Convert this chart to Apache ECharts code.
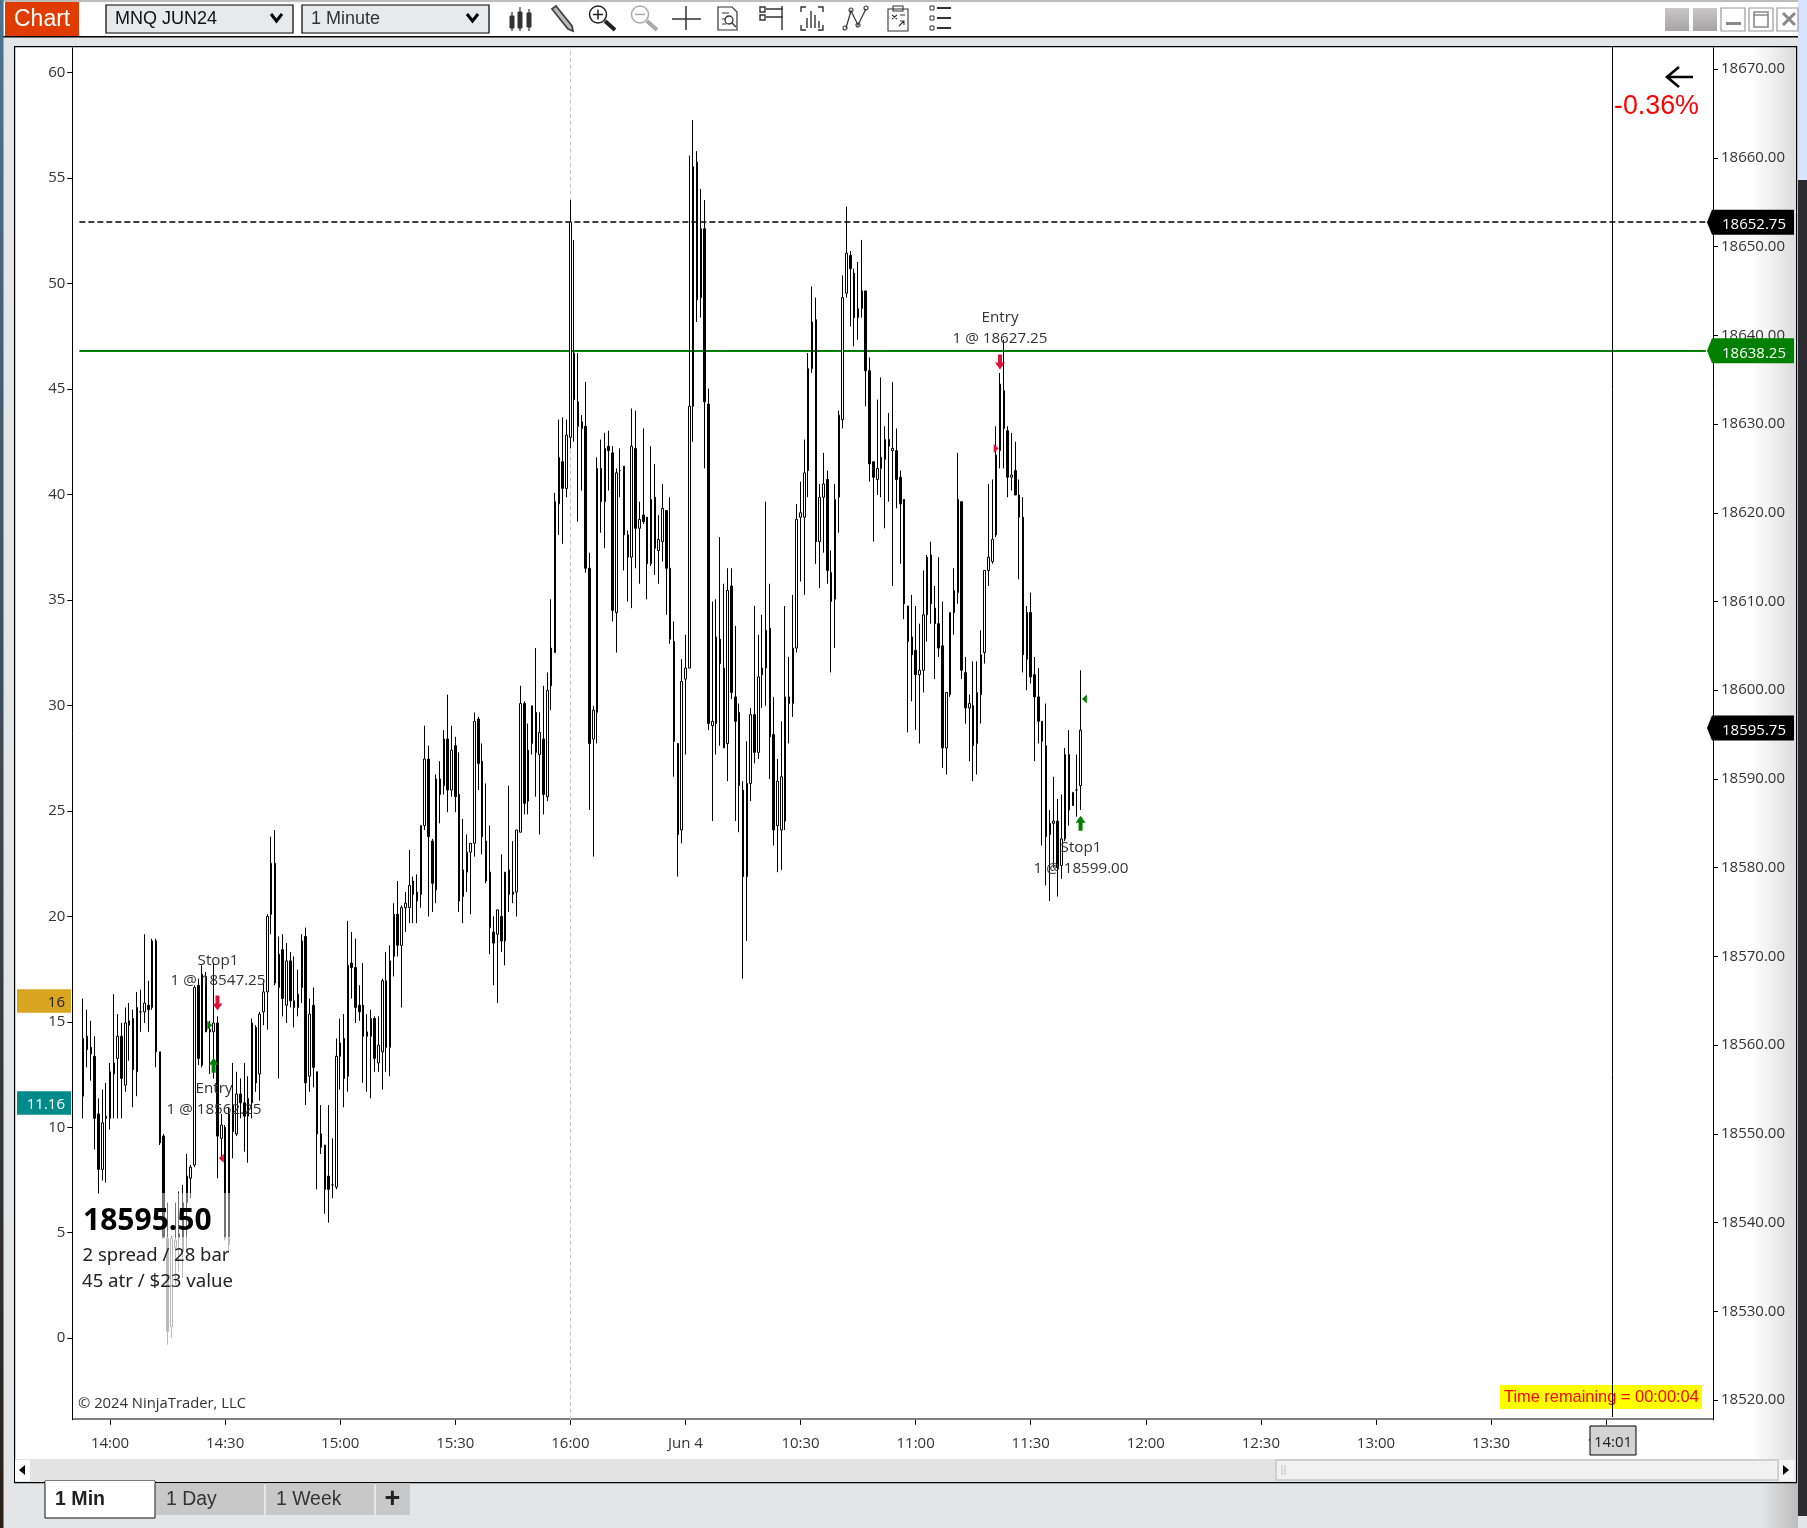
<!DOCTYPE html>
<html><head><meta charset="utf-8">
<style>html,body{margin:0;padding:0;background:#e4e5e7}#c{width:1807px;height:1528px}</style>
<script src="https://cdn.jsdelivr.net/npm/echarts@6/dist/echarts.min.js"></script>
</head><body><div id="c"></div>
<script>
const priceBase=18000;
const opens=[554.25,561,559.75,558.75,552.25,546,551.75,551.75,556.75,558.5,
561,555.5,562.25,563,557,563.75,563.75,564.5,564.25,571.75,
559.25,549.75,538.25,528.25,537.25,538.75,536.75,542.25,545,546.5,
566.75,557.75,567.75,561.5,561.5,562.5,549.5,550.75,537.5,553.25,
550,554.5,553.5,552,553.5,562,556.75,563.75,566,574.75,
580.5,566.5,570.75,564.5,569.5,565,564.25,566.5,572.25,556.5,
564.5,557,550,548.75,545.25,544.25,544,558.75,560.75,556.5,
569.25,568.75,564.5,564.5,561,561,563,558,559.25,567.25,
559.75,570,574.75,571.25,575.5,575.5,578.5,577.25,577,584.75,
592.25,583,577.5,590,589.25,594.5,588.75,593.75,588.25,576.75,
579.5,581.75,582.75,596.75,592,583,579.5,572.75,572.5,574.5,
571.75,579.75,577,577.25,584,598.5,587.5,594,597.5,592.75,
594.5,588,600.5,604.25,621,625.75,622.75,628.5,638,632.5,
629.5,629.75,613.75,594.5,597.5,625,621.25,627.5,626.75,608.75,
624.75,625.25,617.5,615,627.25,618.25,619.75,619.5,614.25,621.75,
615.75,616.75,620.25,613.75,605.5,594,584.25,601.25,602.5,632,
659.5,644.25,652,632.25,596,596.25,605.75,602.5,594,611.75,
599.25,597.5,588.75,579,589.5,597.25,593,601.75,602.5,607,
595,584.75,584.25,585.25,599.25,598.5,604.75,619.5,619.5,624.75,
636.25,641.75,616.75,621.75,623.75,613.25,610.25,621.75,630.5,644.75,
649,647,642,643,645,636,625.75,623.75,625,626,
628.25,627,627,624,621.5,609.5,606,604.5,601.75,602.25,
608.5,615.25,609.25,607.5,605,593.5,599.5,608.75,611,621.25,
602,598,598.25,594,599.5,604.25,613.5,614.5,617.5,627,
633.75,629.25,624,624.75,622,619.5,603.5,608.75,601.75,599.25,
596.5,593.75,583.75,585,585.25,580.25,583.25,592.75,587,588.75,589.25];
const closes=[560.75,559.5,559,551.75,546,551.25,552,557,558,561,
556.25,562.5,562.75,557.25,564.25,563.75,564.75,564,571.75,559.25,
549,538.25,527.75,538.25,538,538.25,542.25,545.25,546.25,566.5,
558.5,568,561.5,561.75,562.5,549.75,551,538.25,552.25,550.25,
554.5,553.5,552,554,562.5,555.75,563.5,566,574.5,580.5,
567,570.25,565.25,569.5,565,564.25,565.75,571.75,555.75,563.5,
557.5,550,548.5,543.75,543.75,544.25,558.75,560.25,556.25,569,
568.75,564.25,563.75,561,561.5,563,558.5,560,567.25,559.75,
569.5,574.75,571.25,575.5,576,578,577,576.25,584.75,592.25,
583.5,578.25,590,588.25,594.5,588.75,593.25,588,576.25,579.75,
581.75,582.75,596.5,591.75,583.5,578.5,573.25,571.5,575.25,571.75,
579.5,577,577.25,584.25,598.5,587.25,593.25,598.25,593,595.25,
588.25,600,604.75,621.25,626.25,622.75,628.75,652.75,632.75,629.75,
630.25,613.75,594,597.75,625,621.25,627.25,627,609,624.5,
624.75,617.5,615,627.5,618.25,619.25,619,614.25,621.5,616,
617,620.5,613.75,605.75,594.25,583.75,601,602.5,632,659,
644,652,632.5,596.25,596.5,606,603,593.5,611.25,599.75,
596.5,589.25,579,589.5,597.25,593,601.5,602.5,606.75,594.75,
584.25,589.75,590.25,599.25,598.5,604.75,619.25,620,624.5,636.25,
641.5,616.75,621.75,623.25,613.5,610,621.5,631,644.25,649.25,
647.5,642,643,645,636,625.5,624,625,626.25,628.25,
627.5,627.25,623.75,621,609.75,605.5,604,601.75,602.25,608.5,
615,609.75,607.5,604.75,593.5,599.75,608.75,611.25,621.5,602.25,
598,598.5,593.75,599.75,604,613.5,615,617,626.5,634.5,
629.5,624,624.25,622,619.5,604,608.75,601.5,599.25,596.5,
594.25,583.5,585,585.25,580,583.25,592.75,586.5,588.5,588.75,595.5];
const lows=[551.75,557.5,556,548.25,543.25,544.75,544.5,550.5,551.75,551.75,
551.75,554.75,558.25,553,554.25,561.5,562.5,561.5,564,557.5,
548.75,538.25,526.25,527,533,534.5,533.75,536.75,542.75,546.25,
557.75,557.5,561.5,556.75,556.25,545,547.25,538,536.75,547.25,
549.75,551.75,548,546.75,551.75,554.75,553.75,562.25,561.75,572.5,
566.75,556.25,563.25,562.5,564.25,562,563.25,564.75,553.25,554.75,
555.25,543.75,547.75,541,540,542.75,543.75,555,553,554.75,
565.25,562.5,562.75,555.75,554.75,554,557,557,555,557,
556.5,567.75,570,564.25,572.75,573.75,573.75,573.75,575.5,584.25,
574.5,575,576,585,588.25,586.25,588,586.25,575,573.75,
577.25,574.75,581.25,588.75,581.5,578.25,570.25,566.75,564.75,570.5,
569,575,576,574.5,584,586,586,592.75,588,583.75,
586,587.5,597.75,604.25,617.5,616.5,621.75,627.25,628,619,
622.5,613.25,586.5,581.25,594,617.75,616,622.5,607.75,604.25,
621.75,613.5,610,609.25,613.75,612,618.75,610.25,614,613,
612,614.5,608.5,605.25,590.25,579,582.75,592.75,602.5,628,
641.5,642,625,595.5,585.25,592.75,593.75,593.5,589.75,599,
585.25,584,567.5,571.75,587.5,591.75,592.25,598,598.25,590,
582.5,579.5,579.75,584.25,594,597,604.25,612.25,610.75,621.75,
635.75,614.25,611.5,615.5,612,602,604.75,617.75,629.5,644.25,
641,638.75,639.5,642,632,623.5,616.75,622,621.75,618.25,
621.25,611.75,620.5,614.25,608,595.25,598.75,595.5,594,599.75,
605.5,607.5,601.25,603.75,591.25,590.5,599.25,606.25,609.75,601.25,
596.25,592,589.75,590.5,596.25,603,611.75,614.25,617.25,625,
625,621.75,622.5,622,612.5,602,600,600.75,592,594,
582.5,578,576.25,580,576.75,578.75,583,584.75,587,585.75,586.5];
const highs=[565.25,564,562.75,561,554,555,555.75,558,565.75,563.5,
562.5,564.25,564.75,564,566,566.25,572.5,567.25,572,572,
559.25,550,542.25,538.5,542.25,543.5,544.25,547.75,546.5,566.75,
567.5,569,568.25,562.75,569.25,563.25,552.25,551,553,558,
557,556.25,558,556.5,563,562.25,563.75,567.25,574.75,583.5,
584.25,572.25,572.5,571.5,570.5,570,568.5,572.5,573.25,565.25,
566.5,557,553.25,548.75,553.25,549.5,560.75,563,563.5,574,
572.75,572,566.75,569.25,563.5,564,563.25,563.25,567.5,570.5,
571.25,576,578.5,575.75,577.25,582,579,579.25,584.75,596,
593.75,583.25,590.5,592,595.5,599.5,596,594.75,593,585.5,
583.75,582.75,597.5,597,594,589.5,584.75,574.5,575.25,581.5,
579.5,589.25,583,584.25,600.5,598.75,596.25,598.25,604.75,597.5,
600.5,602,610.25,622.25,630.5,630.75,630.5,655.25,650.75,638,
631,634.75,615.5,598.25,626.25,628.25,629,629.25,627.5,625,
627.25,625.25,618,631.75,631.5,621.25,629.5,619.5,627.5,625.5,
619.75,623.25,620.25,621.75,607.75,594,603.5,606.25,660.25,664.25,
660.75,656.5,655.25,634,610,610.25,617.25,612,613.75,613.75,
607.25,598.5,589.75,594.25,598,609.5,606.25,608.5,621.25,612,
599.25,592.25,596.5,609.5,603.75,610.75,621,623.5,628.25,638,
645.5,644.25,623.25,626.75,624.75,615.75,623.25,631.5,646.75,654.5,
649.5,647.5,648.25,650.75,645,637.5,625.75,632.75,635.25,629.75,
631.25,634.75,629.5,624.75,621.5,609.5,610.75,609.5,607.5,613.5,
615.25,616.75,611.75,615,610,599.75,608.75,613.75,626.75,621.25,
603.75,599.5,603.25,603.25,606.75,613.5,623.25,623.75,629.75,635.75,
639.5,629.75,629,628,623.75,621.75,609.5,611,603.75,602.5,
596.5,598.5,586.5,590.25,587.75,588.25,593.5,595.5,588.5,592.75,602.25];
const timeTicks=['14:00','14:30','15:00','15:30','16:00','Jun 4','10:30','11:00','11:30','12:00','12:30','13:00','13:30','14:00'];
const priceTicks=[18520,18530,18540,18550,18560,18570,18580,18590,18600,18610,18620,18630,18640,18650,18660,18670];
const leftTicks=[0,5,10,15,20,25,30,35,40,45,50,55,60];
const entryStopLines={dashed:18652.75,green:18638.25,last:18595.75};
const arrowsDown=[[37,18564.75],[241,18637]];
const arrowsUp=[[36,18557.75],[262,18585]];
const triRightGreen=[[35,18562.25]];
const triLeftRed=[[38,18547.25]];
const triRightRed=[[240,18627.25]];
const triLeftGreen=[[263,18599]];
const leftTags=[{v:16,t:'16',fill:'#daa520',col:'#222'},{v:11.16,t:'11.16',fill:'#008b8b',col:'#fff'}];

const leadSlots=2, catCount=427, firstTickCat=9, tickStep=30;
const tickAt={}; timeTicks.forEach((t,k)=>tickAt[firstTickCat+k*tickStep]=t);
const cats=Array.from({length:catCount},(_,c)=>tickAt[c]||'');
const candle=opens.map((o,i)=>[i+leadSlots,priceBase+o,priceBase+closes[i],priceBase+lows[i],priceBase+highs[i]]);
const UI='"Open Sans"', AR='"Liberation Sans"';
const chart=echarts.init(document.getElementById('c'),null,{renderer:'canvas',width:1807,height:1528});
const downArrow='path://M3 0h4v8h3l-5 7-5-7h3z', upArrow='path://M5 0l5 7H7v8H3V7H0z';
const triR='path://M0 0L10 5L0 10Z', triL='path://M10 0L0 5L10 10Z';
const scat=(name,data,sym,size,color)=>({name,type:'scatter',xAxisIndex:0,yAxisIndex:1,data,symbol:sym,symbolSize:size,itemStyle:{color,opacity:1},silent:true,z:4,animation:false});
chart.setOption({
 animation:false,backgroundColor:'#e4e5e7',
 grid:{left:73.6,top:47.8,width:1638,height:1372,containLabel:false},
 xAxis:{type:'category',data:cats,boundaryGap:true,
  axisLine:{show:false,onZero:false},
  axisTick:{show:true,length:5,alignWithLabel:true,interval:i=>!!tickAt[i],lineStyle:{color:'#000'}},
  axisLabel:{show:true,interval:i=>!!tickAt[i],margin:16,fontFamily:UI,fontSize:15,color:'#333',hideOverlap:false},
  splitLine:{show:false}},
 yAxis:[
  {type:'value',position:'left',offset:1.3,min:-3.87,max:61.18,scale:true,
   axisLine:{show:true,onZero:false,lineStyle:{color:'#000'}},
   axisTick:{show:true,length:5,customValues:leftTicks,lineStyle:{color:'#000'}},
   axisLabel:{customValues:leftTicks,margin:7,padding:[11,0,0,0],fontFamily:UI,fontSize:15,color:'#333',showMinLabel:true,showMaxLabel:true},
   splitLine:{show:false}},
  {type:'value',position:'right',offset:1.4,min:18517.78,max:18672.4,scale:true,
   axisLine:{show:true,onZero:false,lineStyle:{color:'#000'}},
   axisTick:{show:true,length:5,customValues:priceTicks,lineStyle:{color:'#000'}},
   axisLabel:{customValues:priceTicks,margin:8,padding:[11,0,0,0],fontFamily:UI,fontSize:15,color:'#333',formatter:v=>v.toFixed(2)},
   splitLine:{show:false}}],
 series:[
  {type:'candlestick',name:'MNQ JUN24',xAxisIndex:0,yAxisIndex:1,data:candle,encode:{x:0,y:[1,2,3,4]},
   barWidth:2,silent:true,z:3,
   itemStyle:{color:'#fff',color0:'#000',borderColor:'#000',borderColor0:'#000',borderColorDoji:'#000',borderWidth:1},
   markLine:{silent:true,symbol:'none',animation:false,z:3,label:{show:false},data:[
    [{coord:[1,entryStopLines.dashed],lineStyle:{color:'#000',type:[6,3],width:1.6}},{coord:[425,entryStopLines.dashed]}],
    [{coord:[1,entryStopLines.green],lineStyle:{color:'#008000',type:'solid',width:2}},{coord:[425,entryStopLines.green]}],
    {xAxis:129,lineStyle:{color:'#c4c4c4',type:[4,3],width:1}}
   ]}},
  scat('exit-down',arrowsDown,downArrow,[10,15],'#dc143c'),
  scat('entry-up',arrowsUp,upArrow,[10,15],'#008000'),
  scat('fill-rg',triRightGreen,triR,[5,9],'#008000'),
  scat('fill-lr',triLeftRed,triL,[5,9],'#dc143c'),
  scat('fill-rr',triRightRed,triR,[5,9],'#dc143c'),
  scat('fill-lg',triLeftGreen,triL,[5,9],'#008000')
 ]
});

const G=[];let pathId=0;
const rect=(x,y,w,h,fill,z,extra)=>G.push(Object.assign({type:'rect',shape:{x,y,width:w,height:h},style:{fill},z,silent:true},extra||{}));
const txt=(x,y,text,size,color,o)=>{o=o||{};G.push({type:'text',z:o.z||20,silent:true,style:{x,y,text,fontSize:size,fontFamily:o.f||UI,fontWeight:o.w||'normal',fill:color,textAlign:o.a||'left',textVerticalAlign:'middle'}})};
const pth=(d,stroke,lw,z,fill)=>{const name='icon'+(pathId++);echarts.graphic.registerShape(name,echarts.graphic.extendPath(d,{}));G.push({type:name,z:z||20,silent:true,style:{fill:fill||'none',stroke:stroke||'none',lineWidth:lw||1}})};
const hGrad=(a,b)=>({type:'linear',x:0,y:0,x2:1,y2:0,colorStops:[{offset:0,color:a},{offset:1,color:b}]});
const vGrad=(a,b)=>({type:'linear',x:0,y:0,x2:0,y2:1,colorStops:[{offset:0,color:a},{offset:1,color:b}]});

// window chrome (under the chart)
rect(14,46,1783,1436,'#fff',-5);
rect(1752,47,44,1412,hGrad('#ffffff','#dcdcdc'),-4);
rect(1760,1483,38,45,hGrad('#e4e5e7','#bcbcbc'),-4);
rect(0,0,1807,2,'#bdbdbd',-4);
rect(4,2,1794,34,'#fff',-4);
rect(0,36,1798,1.4,'#000',-3);
rect(14,46,1783,1.2,'#000',-3);
rect(14,46,1.2,1436,'#000',-3);
rect(1796,46,1.2,1437,'#000',-3);
rect(14,1482,1783,1.2,'#000',-3);
rect(72,1418.6,1641,1,'#000',1);
rect(0,0,3.5,1528,vGrad('#4e7390','#2a2018'),-2);
rect(1798,0,9,180,'#d8e4fb',-2);
rect(1798,180,9,1336,'#2b2b30',-2);

// toolbar
rect(5,2,74,34,'#e03c00',-1);
txt(14,20,'Chart',23,'#fff',{f:AR});
G.push({type:'rect',z:-1,silent:true,shape:{x:106,y:5,width:187,height:28},style:{fill:'#e8e9ea',stroke:'#000',lineWidth:1.2}});
G.push({type:'rect',z:-1,silent:true,shape:{x:302,y:5,width:187,height:28},style:{fill:'#e8e9ea',stroke:'#000',lineWidth:1.2}});
txt(115,19.5,'MNQ JUN24',18,'#111',{f:AR});
txt(311,19.5,'1 Minute',18,'#333',{f:AR});
pth('M271 14l5.5 7 5.5-7','#000',3);
pth('M467 14l5.5 7 5.5-7','#000',3);
// toolbar icons
pth('M512 12V31M520 7V31M529 9V31','#333',1.2);
pth('M510 16h4v12h-4zM518 12h4v16h-4zM527 13h4v14h-4z','#333',1,20,'#333');
pth('M552 9l4-3 16 20 1 5-5-2z','#444',1.8,20,'#bbb');
pth('M598 6a8.5 8.5 0 1 0 .01 0zM593 14.5h10M598 9.5v10','#222',1.5);
pth('M605 21l10 9','#222',4);
pth('M640 6a8.5 8.5 0 1 0 .01 0zM635 14.5h10','#aaa',1.5);
pth('M647 21l10 9','#aaa',4);
pth('M672 19h29M686 6v24','#333',1.5);
pth('M718 7h14l5 5v18h-19zM722 13h7M722 19h4M722 24h4','#333',1.2);
pth('M729 16a4 4 0 1 0 .01 0zM732 23l4 4','#333',1.3);
pth('M760 7h5v5h-5zM760 15h5v5h-5zM766 9h17M766 17h17M782 6v24','#333',1.4);
pth('M801 12V7h5M818 7h5v5M823 25v5h-5M806 30h-5v-5M807 28V18M811 28V11M815 28V15M819 28V21','#333',1.4);
pth('M846 28l5-17 7 14 8-16','#333',1.2);
pth('M845 26a2 2 0 1 0 .01 0zM851 8a2 2 0 1 0 .01 0zM858 23a2 2 0 1 0 .01 0zM866 6a2 2 0 1 0 .01 0z','#333',1.1);
pth('M888 9h20v22h-20zM893 6h10v5h-10zM892 15l5 4M892 19l5-4M900 15l5 0M899 26l5-5M900 21h4v4','#333',1.1);
pth('M930 6h4v4h-4zM930 16h4v4h-4zM930 26h4v4h-4z','#333',1);
pth('M937 8h14M937 18h14M937 28h14','#333',2);
// window buttons
rect(1665,8,24,23,vGrad('#c8c6c6','#a6a4a4'),-1);
rect(1693,8,24,23,vGrad('#c8c6c6','#a6a4a4'),-1);
G.push({type:'rect',z:-1,silent:true,shape:{x:1721,y:8,width:24,height:23},style:{fill:'#fff',stroke:'#999',lineWidth:1.2}});
G.push({type:'rect',z:-1,silent:true,shape:{x:1749,y:8,width:24,height:23},style:{fill:'#fff',stroke:'#999',lineWidth:1.2}});
G.push({type:'rect',z:-1,silent:true,shape:{x:1777,y:8,width:21,height:23},style:{fill:'#fff',stroke:'#999',lineWidth:1.2}});
rect(1726,22,15,3,'#888',0);
pth('M1754 12h14v15h-14zM1754 15h14','#888',1.6);
pth('M1783 13l12 12M1795 13l-12 12','#888',3);

// top-right arrow + pct
pth('M1693 77H1667M1679 67l-12 10 12 10','#000',2.6);
txt(1614,107,'-0.36%',26.8,'#ff0000',{f:AR});

// bottom box info
rect(73,1193,160,152,'rgba(255,255,255,0.45)',6);
rect(73,1237,160,108,'rgba(255,255,255,0.5)',6);
txt(83,1221,'18595.50',30,'#000',{w:'bold',f:'"Noto Sans"'});
txt(82.5,1256,'2 spread / 28 bar',18.5,'#222',{f:'"Noto Sans"'});
txt(82,1282,'45 atr / $23 value',18.6,'#222',{f:'"Noto Sans"'});
txt(78,1404,'© 2024 NinjaTrader, LLC',14.8,'#333');

// trade annotations
[[218,960.5,'Stop1'],[218,980.5,'1 @ 18547.25'],[214,1088.5,'Entry'],[214,1109.5,'1 @ 18562.25'],
 [1000,318,'Entry'],[1000,339,'1 @ 18627.25'],[1081,847.5,'Stop1'],[1081,868.5,'1 @ 18599.00']]
 .forEach(a=>txt(a[0],a[1],a[2],15.2,'#333',{a:'center',z:7}));

// time remaining
rect(1500,1385,202,24,'#ffff00',5);
txt(1504,1397.5,'Time remaining = 00:00:04',16.4,'#ff0000',{f:AR,z:6});
G.push({type:'line',z:7,silent:true,shape:{x1:1612.5,y1:47,x2:1612.5,y2:1417},style:{stroke:'#000',lineWidth:1}});
// cursor time box
G.push({type:'rect',z:15,silent:true,shape:{x:1590,y:1426,width:46,height:29},style:{fill:'#d3d3d3',stroke:'#000',lineWidth:1}});
txt(1613,1443,'14:01',15,'#222',{a:'center'});

// price tags positioned from the value scale
const yR=v=>chart.convertToPixel({yAxisIndex:1},v);
const yL=v=>chart.convertToPixel({yAxisIndex:0},v);
[[entryStopLines.dashed,'#000'],[entryStopLines.green,'#008000'],[entryStopLines.last,'#000']].forEach(([v,c])=>{
 const y=yR(v);
 G.push({type:'polygon',z:12,silent:true,shape:{points:[[1707,y],[1712,y-12.5],[1794,y-12.5],[1794,y+12.5],[1712,y+12.5]]},style:{fill:c}});
 txt(1722,y+3,v.toFixed(2),15,'#fff');
});
leftTags.forEach(t=>{const y=yL(t.v);rect(17,y-11.5,54,23.5,t.fill,12);txt(65,y+2,t.t,15,t.col,{a:'right'});});

// scrollbar + tabs
rect(15,1459,1781,23,'#e3e3e3',1);
rect(15,1460,15,21,'#fff',2);
pth('M19 1470l6-5v10z','none',1,3,'#000');
G.push({type:'rect',z:2,silent:true,shape:{x:1276,y:1460,width:502,height:20},style:{fill:'#f1f1f1',stroke:'#c8c8c8',lineWidth:1.5}});
pth('M1282 1465v10M1285 1465v10','#c0c0c0',1,3);
rect(1779,1460,15,21,'#f6f6f6',2);
pth('M1783 1465l6 5-6 5z','none',1,3,'#000');
rect(156,1483,108,32,'#c8c8c8',1);
rect(266,1483,108,32,'#c8c8c8',1);
rect(376,1483,34,32,'#c8c8c8',1);
G.push({type:'rect',z:2,silent:true,shape:{x:45,y:1481,width:110,height:37},style:{fill:'#fff',stroke:'#111',lineWidth:1}});
rect(45.5,1481,109,3,'#fff',3);
txt(55,1500,'1 Min',19.6,'#222',{f:AR,w:'bold'});
txt(166,1500,'1 Day',19.4,'#333',{f:AR});
txt(276,1500,'1 Week',19.4,'#333',{f:AR});
txt(392.5,1500,'+',27,'#222',{f:AR,w:'bold',a:'center'});
chart.setOption({graphic:{elements:G}});
</script></body></html>
